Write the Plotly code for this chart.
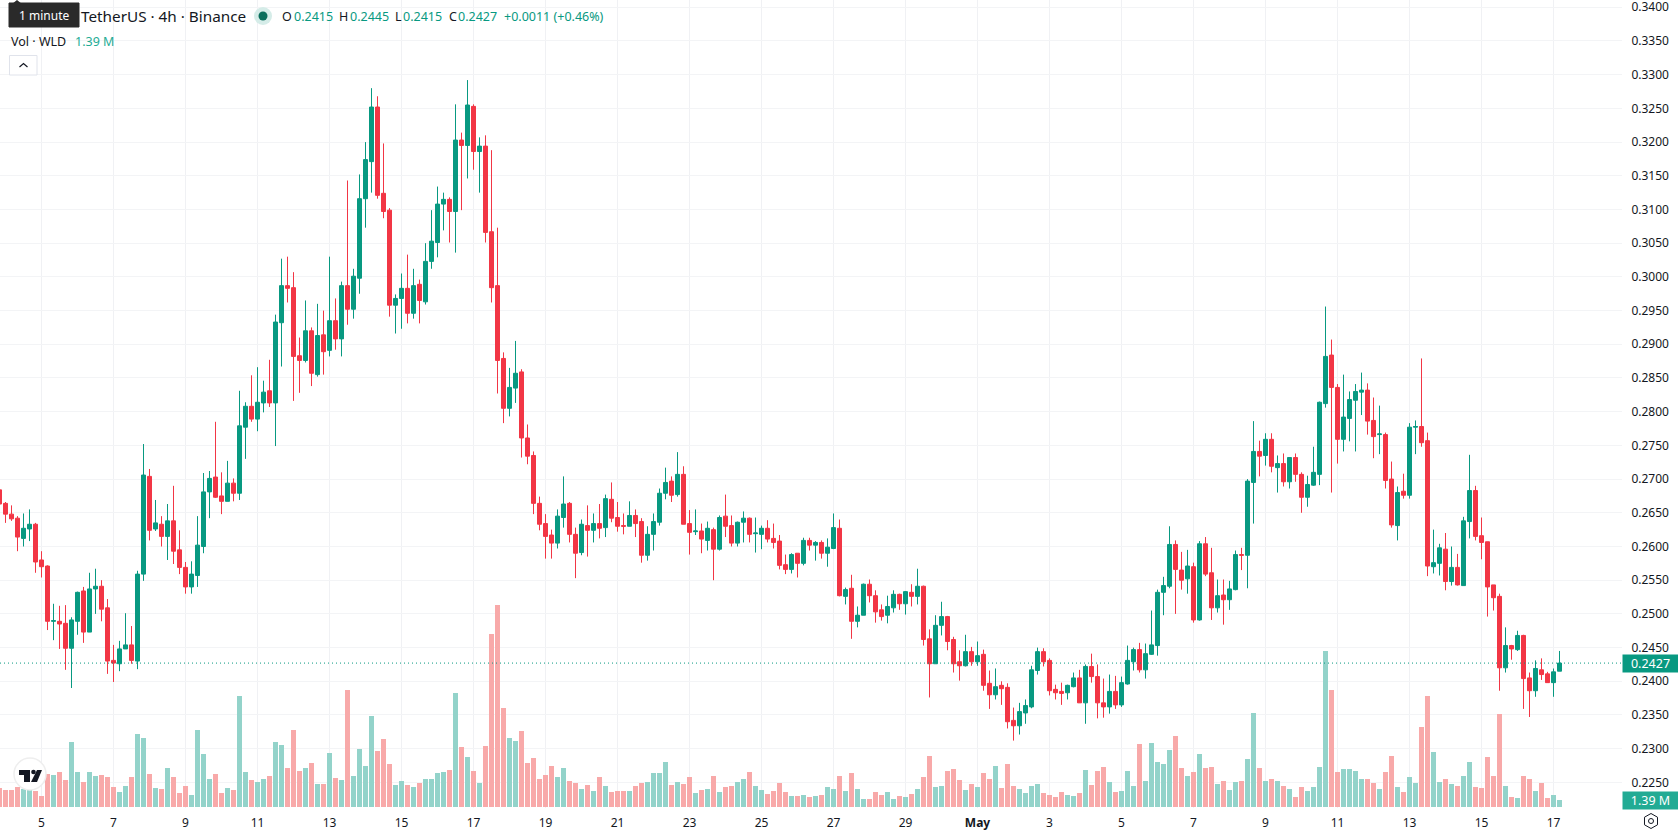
import pandas as pd
import plotly.graph_objects as go

# WLD/USDT 4h candles, prices in ten-thousandths of a dollar, ten bars per row
OPEN = [
    2684,2664,2648,2642,2612,2626,2633,2580,2571,2489,
    2489,2486,2449,2489,2534,2473,2537,2541,2509,2431,
    2426,2448,2454,2430,2559,2704,2626,2633,2615,2638,
    2595,2569,2540,2557,2600,2681,2703,2675,2667,2694,
    2679,2777,2808,2789,2813,2831,2813,2932,2987,2984,
    2883,2876,2920,2855,2914,2891,2935,2908,2987,2952,
    2998,3116,3171,3252,3124,3099,2958,2968,2983,2946,
    2989,2963,3023,3051,3108,3115,3097,3203,3195,3253,
    3186,3194,3067,2987,2879,2805,2835,2859,2761,2735,
    2664,2634,2617,2605,2643,2664,2618,2591,2631,2624,
    2634,2628,2670,2643,2631,2630,2646,2637,2587,2618,
    2636,2679,2697,2677,2707,2634,2622,2623,2609,2625,
    2596,2645,2631,2605,2636,2642,2619,2618,2627,2612,
    2608,2573,2566,2590,2575,2609,2602,2606,2590,2597,
    2627,2526,2538,2489,2498,2544,2527,2506,2498,2509,
    2529,2515,2532,2526,2541,2463,2426,2483,2496,2462,
    2429,2423,2444,2429,2440,2397,2380,2394,2391,2342,
    2334,2353,2362,2416,2444,2431,2388,2385,2383,2392,
    2405,2368,2422,2407,2368,2362,2385,2365,2396,2429,
    2447,2417,2440,2453,2532,2541,2603,2565,2552,2570,
    2491,2604,2561,2509,2528,2521,2536,2588,2587,2695,
    2741,2735,2759,2717,2723,2696,2732,2707,2673,2691,
    2707,2812,2884,2836,2759,2790,2817,2829,2832,2787,
    2766,2766,2700,2631,2682,2676,2777,2778,2757,2570,
    2575,2596,2548,2569,2542,2637,2683,2616,2607,2543,
    2526,2420,2453,2447,2468,2405,2386,2417,2411,2398,
    2415,
]
HIGH = [
    2686,2666,2661,2645,2649,2655,2635,2593,2572,2515,
    2512,2513,2495,2533,2540,2561,2567,2550,2522,2454,
    2460,2501,2482,2564,2752,2715,2669,2645,2663,2690,
    2624,2577,2578,2645,2709,2712,2785,2710,2727,2701,
    2831,2814,2854,2866,2846,2877,2944,3027,3030,3007,
    2910,2965,2925,2960,2950,3030,2968,2993,3143,3012,
    3152,3200,3280,3268,3198,3102,2974,3005,3033,3012,
    2996,3050,3099,3134,3125,3118,3256,3214,3292,3256,
    3207,3210,3188,3073,2888,2865,2905,2863,2781,2741,
    2674,2648,2625,2655,2704,2666,2628,2640,2661,2649,
    2663,2677,2695,2666,2649,2667,2655,2642,2630,2649,
    2686,2717,2704,2740,2719,2654,2655,2634,2637,2628,
    2646,2677,2646,2637,2652,2643,2643,2631,2639,2634,
    2617,2588,2590,2590,2613,2613,2608,2609,2612,2649,
    2640,2539,2558,2511,2545,2551,2535,2514,2527,2535,
    2530,2534,2544,2567,2542,2477,2498,2518,2497,2466,
    2446,2469,2451,2459,2447,2416,2419,2400,2397,2361,
    2368,2373,2423,2450,2449,2434,2395,2398,2395,2413,
    2417,2425,2441,2425,2404,2410,2408,2407,2453,2450,
    2457,2456,2505,2536,2555,2630,2609,2592,2595,2576,
    2608,2614,2598,2551,2551,2549,2594,2598,2700,2786,
    2757,2768,2768,2735,2738,2732,2738,2710,2705,2748,
    2815,2956,2907,2841,2855,2830,2841,2858,2842,2821,
    2809,2769,2726,2689,2708,2783,2787,2879,2769,2625,
    2604,2620,2600,2589,2644,2736,2690,2643,2607,2543,
    2530,2480,2454,2475,2469,2413,2431,2434,2414,2419,
    2445,
]
LOW = [
    2660,2635,2638,2593,2600,2608,2561,2554,2476,2461,
    2448,2417,2390,2469,2457,2473,2500,2489,2411,2399,
    2415,2448,2426,2418,2549,2609,2623,2600,2580,2574,
    2559,2530,2530,2540,2590,2642,2672,2648,2667,2667,
    2669,2730,2785,2771,2799,2807,2749,2867,2962,2816,
    2828,2873,2838,2852,2855,2882,2892,2882,2929,2938,
    2975,3073,3125,3116,3087,2941,2916,2923,2931,2938,
    2931,2959,3012,3029,3069,3051,3036,3099,3146,3159,
    3125,3051,2962,2827,2783,2793,2813,2732,2722,2648,
    2624,2582,2582,2597,2628,2606,2553,2587,2585,2606,
    2612,2614,2636,2622,2618,2630,2614,2576,2579,2594,
    2631,2670,2666,2674,2633,2588,2617,2590,2594,2550,
    2594,2614,2600,2600,2606,2606,2591,2596,2606,2597,
    2566,2559,2560,2554,2572,2594,2579,2582,2570,2596,
    2526,2514,2463,2480,2498,2517,2487,2490,2486,2502,
    2506,2499,2511,2514,2453,2376,2426,2468,2446,2413,
    2401,2422,2423,2423,2386,2359,2373,2365,2330,2312,
    2321,2337,2360,2410,2422,2379,2373,2365,2373,2391,
    2368,2337,2398,2345,2346,2352,2359,2362,2395,2416,
    2413,2404,2439,2438,2498,2538,2500,2536,2530,2487,
    2490,2556,2491,2502,2484,2506,2535,2565,2538,2634,
    2704,2720,2710,2680,2689,2686,2696,2650,2659,2690,
    2691,2806,2680,2723,2741,2756,2741,2795,2766,2731,
    2737,2686,2628,2609,2671,2671,2737,2748,2556,2560,
    2557,2535,2542,2542,2542,2612,2609,2581,2496,2505,
    2386,2413,2432,2445,2359,2347,2377,2402,2398,2377,
    2415,
]
CLOSE = [
    2663,2648,2641,2614,2627,2633,2577,2570,2489,2490,
    2485,2449,2491,2532,2473,2537,2541,2507,2430,2427,
    2448,2454,2431,2559,2706,2624,2635,2615,2638,2593,
    2569,2540,2559,2602,2681,2701,2673,2667,2694,2679,
    2779,2808,2789,2814,2829,2813,2933,2987,2983,2882,
    2876,2920,2857,2913,2889,2935,2908,2987,2952,3001,
    3116,3174,3252,3121,3097,2958,2968,2983,2946,2987,
    2965,3023,3053,3108,3115,3097,3203,3195,3255,3186,
    3194,3066,2984,2876,2805,2836,2857,2761,2734,2664,
    2633,2615,2605,2645,2663,2618,2590,2633,2624,2634,
    2627,2671,2642,2630,2630,2646,2634,2587,2618,2637,
    2679,2695,2676,2707,2633,2621,2623,2611,2627,2596,
    2643,2630,2605,2636,2642,2618,2620,2627,2611,2606,
    2572,2566,2588,2575,2609,2602,2606,2590,2599,2628,
    2527,2536,2489,2498,2544,2527,2503,2496,2511,2529,
    2515,2533,2526,2541,2462,2426,2483,2496,2459,2426,
    2423,2444,2429,2438,2394,2380,2392,2389,2340,2334,
    2355,2364,2417,2444,2429,2386,2383,2382,2394,2405,
    2368,2422,2407,2368,2362,2385,2365,2398,2431,2447,
    2417,2441,2454,2532,2542,2603,2566,2550,2571,2491,
    2604,2559,2509,2527,2521,2537,2588,2587,2697,2741,
    2734,2759,2719,2723,2696,2732,2707,2673,2692,2710,
    2814,2882,2836,2759,2792,2818,2830,2832,2786,2763,
    2767,2698,2632,2680,2676,2777,2778,2754,2571,2576,
    2598,2548,2569,2543,2638,2683,2615,2606,2540,2524,
    2420,2453,2448,2468,2404,2386,2419,2410,2398,2414,
    2427,
]
# Traded volume per bar, in millions of WLD
VOLUME = [
    3.8,3.4,3.4,4.0,3.7,3.4,3.2,2.2,6.6,6.4,
    7.0,5.4,13.0,7.0,5.0,7.0,6.2,6.4,6.0,4.0,
    3.0,4.2,6.0,14.6,13.8,6.6,3.8,3.6,7.8,6.0,
    2.8,4.2,2.4,15.4,10.6,5.6,6.6,2.8,3.8,3.4,
    22.2,7.0,5.4,5.0,5.6,6.2,13.0,12.4,7.8,15.4,
    7.2,7.8,8.8,4.6,4.6,10.8,5.8,5.4,23.4,6.2,
    11.6,8.2,18.2,11.2,13.6,8.6,4.4,5.2,4.4,4.0,
    4.8,5.6,5.6,6.8,7.0,7.4,22.8,12.0,10.0,7.2,
    4.8,12.2,34.6,40.4,19.8,13.8,13.2,15.2,8.8,9.8,
    5.6,6.4,8.2,6.0,7.8,5.2,4.8,3.6,4.4,3.2,
    6.0,4.2,3.0,3.2,3.2,3.2,4.2,4.8,5.0,6.8,
    6.8,9.0,4.4,5.0,4.6,6.0,2.8,3.4,3.6,6.2,
    3.0,4.0,4.2,5.0,5.6,7.0,4.2,3.4,2.6,3.2,
    4.8,3.0,2.2,2.2,2.4,2.0,2.2,2.4,4.0,3.6,
    6.2,3.2,6.8,3.6,1.6,1.6,3.0,2.4,3.0,1.6,
    2.2,2.0,2.6,3.6,6.0,10.2,4.0,4.2,7.2,7.6,
    5.4,3.4,4.6,4.0,6.8,5.6,8.2,3.8,8.6,4.2,
    3.6,2.8,4.2,4.6,2.8,2.4,2.0,3.0,2.4,2.2,
    2.8,7.4,4.4,7.2,8.0,5.0,3.0,3.2,7.2,4.2,
    12.6,5.2,12.8,9.0,8.6,11.4,14.2,7.8,6.2,7.0,
    10.6,7.8,8.0,4.6,5.2,3.4,5.0,5.2,9.6,18.8,
    7.8,5.2,5.6,5.2,4.2,3.6,2.0,4.0,3.2,4.0,
    8.0,31.2,23.4,7.0,7.6,7.6,7.2,5.6,5.6,4.8,
    3.6,7.0,10.2,4.0,3.0,6.0,4.8,16.0,22.2,11.0,
    5.0,5.6,4.6,4.2,6.2,9.0,4.0,3.8,10.0,6.2,
    18.6,4.2,2.0,1.8,6.2,5.6,3.2,4.8,1.8,2.4,
    1.39,
]
DAY_LABELS = ["5","7","9","11","13","15","17","19","21","23","25","27","29",
              "<b>May</b>","3","5","7","9","11","13","15","17"]
FIRST_BAR = "2025-04-03 20:00"
FIRST_LABEL_DAY = "2025-04-05"
LAST_PRICE = 0.2427

WIDTH, HEIGHT = 1678, 835
PLOT_W, PLOT_H = 1622, 808
GREEN, RED = "#089981", "#f23645"
VOL_GREEN, VOL_RED = "#93d3ca", "#f8a9a9"
INK = "#131722"
FONT = "Noto Sans"

times = pd.date_range(FIRST_BAR, periods=len(OPEN), freq="4h")
scale = lambda values: [v / 10000 for v in values]
bar_ms = 4 * 3600 * 1000
px_minutes = 40  # six pixels per four-hour bar

# Horizontal window: the Apr 5 00:00 bar sits 41.5 px from the left edge
x_start = pd.Timestamp(FIRST_LABEL_DAY) - pd.Timedelta(minutes=41.5 * px_minutes)
x_end = x_start + pd.Timedelta(minutes=PLOT_W * px_minutes)

fig = go.Figure()
fig.add_bar(
    x=times, y=VOLUME, yaxis="y2", width=bar_ms * 5 / 6,
    marker=dict(color=[VOL_GREEN if c >= o else VOL_RED for o, c in zip(OPEN, CLOSE)], line_width=0),
    hoverinfo="skip",
)
fig.add_candlestick(
    x=times, open=scale(OPEN), high=scale(HIGH), low=scale(LOW), close=scale(CLOSE),
    whiskerwidth=0,
    increasing=dict(line=dict(color=GREEN, width=1), fillcolor=GREEN),
    decreasing=dict(line=dict(color=RED, width=1), fillcolor=RED),
    yaxis="y",
)

tick_days = pd.date_range(FIRST_LABEL_DAY, periods=len(DAY_LABELS), freq="2D")
price_ticks = [round(0.225 + 0.005 * i, 3) for i in range(24)]


def px(x):
    return x / PLOT_W


def py(y):
    return 1 - y / PLOT_H


def to_path(points, close=True):
    cmds = [f"{'M' if i == 0 else 'L'}{px(x):.5f},{py(y):.5f}" for i, (x, y) in enumerate(points)]
    return " ".join(cmds) + (" Z" if close else "")


def label(text, x, y, size=12.5, color=INK, anchor="left", **extra):
    return dict(text=text, x=px(x), y=py(y), xref="paper", yref="paper", showarrow=False,
                xanchor=anchor, yanchor="middle", align=anchor,
                font=dict(family=FONT, size=size, color=color), **extra)


def rect(x0, y0, x1, y1, fill, line=None, lw=0):
    return dict(type="rect", xref="paper", yref="paper", x0=px(x0), x1=px(x1), y0=py(y1), y1=py(y0),
                fillcolor=fill, line=dict(color=line or fill, width=lw))


def circle(cx, cy, r, fill, line=None, lw=0):
    return dict(type="circle", xref="paper", yref="paper", x0=px(cx - r), x1=px(cx + r),
                y0=py(cy + r), y1=py(cy - r), fillcolor=fill, line=dict(color=line or fill, width=lw))


def poly(points, fill="rgba(0,0,0,0)", line=None, lw=0, close=True):
    return dict(type="path", xref="paper", yref="paper", path=to_path(points, close),
                fillcolor=fill, line=dict(color=line or "rgba(0,0,0,0)", width=lw))


shapes = [
    # Last-price marker line
    dict(type="line", xref="paper", x0=0, x1=1, yref="y", y0=LAST_PRICE, y1=LAST_PRICE,
         line=dict(color=GREEN, width=1, dash="1px,3px")),
    # Tooltip over the legend
    rect(9, 3, 79, 27, "#2a2a2a", "#2a2a2a", 1),
    poly([(12, 4), (17, 0), (22, 4)], fill="#2a2a2a"),
    # Market status dot
    circle(263, 16, 9, "#d5ece8"),
    circle(263, 16, 4.5, "#0a6e5c"),
    # Collapse-legend button
    rect(9.5, 55.5, 37, 75, "#ffffff", "#e0e3eb", 1),
    poly([(19.5, 67), (23.5, 63.5), (27.5, 67)], line=INK, lw=1.2, close=False),
    # Logo badge
    circle(30, 774, 16, "#ffffff", "#eeeeee", 1.5),
    poly([(19, 770), (30, 770), (30, 782), (24, 782), (24, 775), (19, 775)], fill="#131722"),
    circle(33.5, 772, 2.3, "#131722"),
    poly([(37, 770), (42, 770), (37, 782), (31, 782)], fill="#131722"),
    # Chart settings glyph
    poly([(1651, 813.5), (1657.5, 817.2), (1657.5, 824.8), (1651, 828.5), (1644.5, 824.8), (1644.5, 817.2)],
         line=INK, lw=1),
    circle(1651, 821, 2.5, "rgba(0,0,0,0)", INK, 1),
]

annotations = [
    label("1 minute", 44, 15, size=12, color="#ffffff", anchor="center"),
    label("TetherUS · 4h · Binance", 79, 16, size=15.3),
    label("O", 279.5, 16), label("0.2415", 291.5, 16, color=GREEN),
    label("H", 337, 16), label("0.2445", 347.5, 16, color=GREEN),
    label("L", 393, 16), label("0.2415", 400.5, 16, color=GREEN),
    label("C", 447, 16), label("0.2427", 456, 16, color=GREEN),
    label("+0.0011 (+0.46%)", 501.5, 16, color=GREEN),
    label("Vol · WLD", 8.5, 41), label("1.39 M", 73, 41, color="#22ab94"),
    # Value tags on the price scale
    dict(text="0.2427", x=1, xref="paper", xanchor="left", y=LAST_PRICE, yref="y", yanchor="middle",
         showarrow=False, width=55, height=17, bgcolor=GREEN, borderpad=0,
         font=dict(family=FONT, size=12.5, color="#ffffff")),
    dict(text="1.39 M", x=1, xref="paper", xanchor="left", y=VOLUME[-1], yref="y2", yanchor="top",
         yshift=9, showarrow=False, width=55, height=17, bgcolor="#22ab94", borderpad=0,
         font=dict(family=FONT, size=12.5, color="#ffffff")),
]

fig.update_layout(
    width=WIDTH, height=HEIGHT,
    margin=dict(l=0, r=WIDTH - PLOT_W, t=0, b=HEIGHT - PLOT_H, autoexpand=False),
    paper_bgcolor="#ffffff", plot_bgcolor="#ffffff",
    showlegend=False, barmode="overlay", bargap=0,
    boxgap=1 / 3, boxgroupgap=0, boxmode="overlay",
    font=dict(family=FONT, size=12, color=INK),
    xaxis=dict(
        type="date", range=[x_start, x_end], rangeslider=dict(visible=False),
        tickmode="array", tickvals=list(tick_days), ticktext=DAY_LABELS,
        showgrid=True, gridcolor="#f0f1f4", gridwidth=1, zeroline=False, showline=False,
        ticks="outside", ticklen=4, tickcolor="rgba(0,0,0,0)", tickfont=dict(family=FONT, size=12, color=INK),
    ),
    yaxis=dict(
        side="right", range=[0.22120, 0.34108], tickmode="array", tickvals=price_ticks,
        ticktext=[f"{p:.4f}" for p in price_ticks], ticklabeloverflow="allow",
        showgrid=True, gridcolor="#f3f4f6", gridwidth=1, zeroline=False, showline=False,
        ticks="outside", ticklen=6, tickcolor="rgba(0,0,0,0)", tickfont=dict(family=FONT, size=12, color=INK),
    ),
    yaxis2=dict(overlaying="y", range=[-0.2, 161.4], visible=False),
    shapes=shapes, annotations=annotations,
)

fig.write_html("out.html")
